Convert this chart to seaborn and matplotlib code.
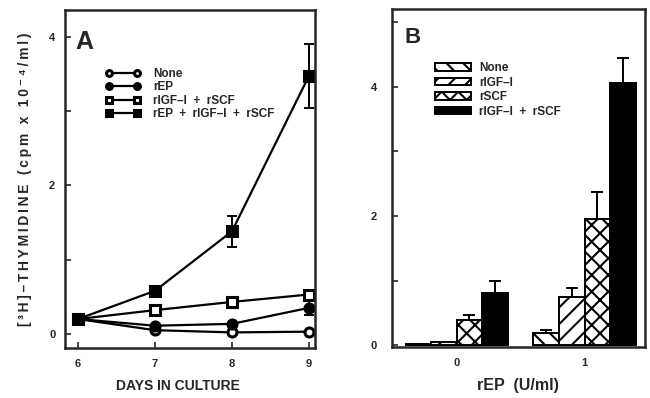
import matplotlib
matplotlib.use("Agg")
import matplotlib.pyplot as plt
from matplotlib.ticker import MultipleLocator
import seaborn as sns
import pandas as pd
import numpy as np

# ---------------- data: panel A ----------------
days = [6, 7, 8, 9]
a_none = [0.20, 0.05, 0.02, 0.03]
a_rep = [0.20, 0.11, 0.135, 0.35]
a_igf_scf = [0.20, 0.32, 0.43, 0.53]
a_all = [0.20, 0.58, 1.38, 3.47]
a_rep_err = [0, 0, 0, 0.10]
a_all_err = [0, 0, 0.21, 0.43]
a_labels = ["None", "rEP", "rIGF\u2013I  +  rSCF", "rEP  +  rIGF\u2013I  +  rSCF"]

# ---------------- data: panel B ----------------
rep_levels = ["0", "1"]
b_treat = ["None", "rIGF\u2013I", "rSCF", "rIGF\u2013I  +  rSCF"]
b_vals_0 = [0.02, 0.05, 0.39, 0.81]
b_vals_1 = [0.18, 0.75, 1.95, 4.05]
b_err_0 = [0.0, 0.0, 0.07, 0.18]
b_err_1 = [0.06, 0.13, 0.42, 0.39]

sns.set_style("ticks")
plt.rcParams["font.family"] = ["Liberation Sans", "DejaVu Sans"]
plt.rcParams["font.weight"] = "bold"
plt.rcParams["hatch.color"] = "black"
plt.rcParams["hatch.linewidth"] = 1.5
plt.rcParams["axes.linewidth"] = 1.8
plt.rcParams["xtick.direction"] = "in"
plt.rcParams["ytick.direction"] = "in"

fig = plt.figure(figsize=(6.5, 3.98), dpi=100)
axA = fig.add_axes([0.100, 0.1256, 0.3846, 0.8493])
axB = fig.add_axes([0.603, 0.128, 0.389, 0.849])

# ---------------- panel A ----------------
series = [
    (a_none, "o", "white"),
    (a_rep, "o", "black"),
    (a_igf_scf, "s", "white"),
    (a_all, "s", "black"),
]
for (vals, mk, fc), lab in zip(series, a_labels):
    sns.lineplot(x=days, y=vals, ax=axA, color="black", lw=1.6, marker=mk,
                 markersize=6.5, markerfacecolor=fc, markeredgecolor="black",
                 markeredgewidth=2.2, label=lab, legend=False)
axA.errorbar(days, a_rep, yerr=a_rep_err, fmt="none", ecolor="black",
             elinewidth=1.4, capsize=3.5, capthick=1.4)
axA.errorbar(days, a_all, yerr=a_all_err, fmt="none", ecolor="black",
             elinewidth=1.4, capsize=3.5, capthick=1.4)

axA.set_xlim(5.83, 9.08)
axA.set_ylim(-0.19, 4.36)
axA.set_xticks(days)
axA.set_yticks([0, 2, 4])
axA.yaxis.set_minor_locator(MultipleLocator(1))
axA.tick_params(axis="both", which="major", length=4, width=1.2, labelsize=8)
axA.tick_params(axis="y", which="minor", length=4, width=1.2)
axA.tick_params(axis="x", pad=8)
axA.tick_params(axis="y", pad=7)
axA.set_xlabel("DAYS IN CULTURE", fontsize=10, fontweight="bold", labelpad=7)
axA.xaxis.label.set_x(0.45)
ylab = "[\u00b3H]\u2013THYMIDINE (cpm x 10\u207b\u2074/ml)"
ylab = "\u2009".join(list(ylab))
axA.set_ylabel(ylab, fontsize=10, fontweight="bold", labelpad=12)
for s in axA.spines.values():
    s.set_visible(True)
axA.text(0.04, 0.905, "A", transform=axA.transAxes, fontsize=18,
         fontweight="bold", va="center", ha="left")
legA = axA.legend(loc="upper left", bbox_to_anchor=(0.12, 0.86), frameon=False,
                  handlelength=3.0, handletextpad=1.0, labelspacing=0.12,
                  fontsize=8.5, numpoints=2, markerscale=0.65)

# ---------------- panel B ----------------
dfB = pd.DataFrame({
    "rep": [r for r in rep_levels for _ in b_treat],
    "treat": b_treat * 2,
    "val": b_vals_0 + b_vals_1,
})
palB = {b_treat[0]: "white", b_treat[1]: "white", b_treat[2]: "white",
        b_treat[3]: "black"}
sns.barplot(data=dfB, x="rep", y="val", hue="treat", order=rep_levels,
            hue_order=b_treat, palette=palB, errorbar=None, ax=axB,
            edgecolor="black", linewidth=1.4, legend=False, saturation=1)
hatches = ["\\\\", "//", "xx", None]
errs = [b_err_0, b_err_1]
bar_conts = list(axB.containers)
for i, cont in enumerate(bar_conts):
    for j, bar in enumerate(cont):
        if hatches[i]:
            bar.set_hatch(hatches[i])
        e = errs[j][i]
        if e > 0:
            xc = bar.get_x() + bar.get_width() / 2
            axB.errorbar([xc], [bar.get_height()], yerr=[[0], [e]], fmt="none",
                         ecolor="black", elinewidth=1.4, capsize=4, capthick=1.4)

axB.set_xlim(-0.506, 1.47)
axB.set_ylim(-0.03, 5.2)
axB.set_yticks([0, 2, 4])
axB.yaxis.set_minor_locator(MultipleLocator(1))
axB.tick_params(axis="y", which="both", length=4, width=1.2, labelsize=8, pad=11)
axB.tick_params(axis="x", length=0, labelsize=8, pad=8)
axB.set_xlabel("rEP  (U/ml)", fontsize=11.5, fontweight="bold", labelpad=7)
axB.set_ylabel("")
for s in axB.spines.values():
    s.set_visible(True)
axB.text(0.05, 0.917, "B", transform=axB.transAxes, fontsize=16,
         fontweight="bold", va="center", ha="left")
axB.legend(handles=[c.patches[0] for c in bar_conts], labels=b_treat,
           loc="upper left", bbox_to_anchor=(0.13, 0.875), frameon=False,
           handlelength=3.0, handleheight=0.6, handletextpad=0.7,
           labelspacing=0.22, fontsize=8.5)

fig.savefig("out.png", dpi=100)
